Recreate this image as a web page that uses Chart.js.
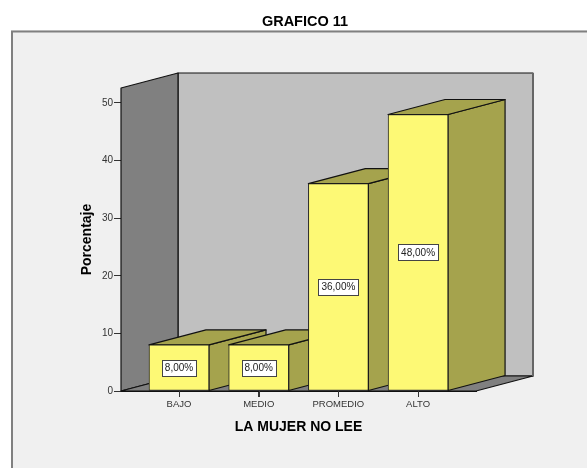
<!DOCTYPE html>
<html>
<head>
<meta charset="utf-8">
<style>
html, body { margin: 0; padding: 0; background: #fff; }
#wrap { width: 587px; height: 468px; }
</style>
<script src="https://cdn.jsdelivr.net/npm/chart.js@4"></script>
</head>
<body>
<div id="wrap"><canvas id="grafico"></canvas></div>
<script>
const categories = ["BAJO", "MEDIO", "PROMEDIO", "ALTO"];
const percentages = [8, 8, 36, 48];
const valueLabels = ["8,00%", "8,00%", "36,00%", "48,00%"];
const yTicks = [0, 10, 20, 30, 40, 50];

const depthX = 57;
const depthY = 15;
const fontName = '"Liberation Sans", Arial, sans-serif';

function poly(ctx, pts, fill) {
    ctx.beginPath();
    pts.forEach((p, i) => (i ? ctx.lineTo(p[0], p[1]) : ctx.moveTo(p[0], p[1])));
    ctx.closePath();
    ctx.fillStyle = fill;
    ctx.fill();
    ctx.stroke();
}

const box3d = {
    id: "box3d",
    beforeDraw(chart) {
        const ctx = chart.ctx;
        ctx.save();
        ctx.fillStyle = "#fff";
        ctx.fillRect(0, 0, chart.width, chart.height);
        ctx.fillStyle = "#f0f0f0";
        ctx.fillRect(11, 30, chart.width - 11, chart.height - 30);
        ctx.strokeStyle = "#808080";
        ctx.lineWidth = 2;
        ctx.beginPath();
        ctx.moveTo(12, chart.height);
        ctx.lineTo(12, 31.5);
        ctx.lineTo(chart.width, 31.5);
        ctx.stroke();
        ctx.fillStyle = "#000";
        ctx.font = "bold 14.5px " + fontName;
        ctx.textAlign = "center";
        ctx.textBaseline = "middle";
        ctx.fillText("GRAFICO 11", 305, 22);
        ctx.restore();
    },
    beforeDatasetsDraw(chart) {
        const ctx = chart.ctx;
        const a = chart.chartArea;
        ctx.save();
        ctx.strokeStyle = "#111";
        ctx.lineWidth = 1.2;
        ctx.lineJoin = "round";
        // paredes y piso
        poly(ctx, [[a.left + depthX, a.top - depthY], [a.right + depthX, a.top - depthY],
            [a.right + depthX, a.bottom - depthY], [a.left + depthX, a.bottom - depthY]], "#c0c0c0");
        poly(ctx, [[a.left, a.top], [a.left + depthX, a.top - depthY],
            [a.left + depthX, a.bottom - depthY], [a.left, a.bottom]], "#808080");
        poly(ctx, [[a.left, a.bottom], [a.left + depthX, a.bottom - depthY],
            [a.right + depthX, a.bottom - depthY], [a.right, a.bottom]], "#808080");
        ctx.strokeStyle = "#666";
        ctx.lineWidth = 2;
        ctx.beginPath();
        ctx.moveTo(a.right + depthX, a.top - depthY);
        ctx.lineTo(a.right + depthX, a.bottom - depthY);
        ctx.stroke();
        // caras laterales y superiores de las barras
        ctx.strokeStyle = "#111";
        ctx.lineWidth = 1.2;
        chart.getDatasetMeta(0).data.forEach((bar) => {
            const l = bar.x - bar.width / 2;
            const r = bar.x + bar.width / 2;
            poly(ctx, [[r, bar.y], [r + depthX, bar.y - depthY], [r + depthX, bar.base - depthY], [r, bar.base]], "#a5a34d");
            poly(ctx, [[l, bar.y], [l + depthX, bar.y - depthY], [r + depthX, bar.y - depthY], [r, bar.y]], "#a5a34d");
        });
        ctx.restore();
    },
    afterDatasetsDraw(chart) {
        const ctx = chart.ctx;
        ctx.save();
        ctx.font = "10px " + fontName;
        ctx.textAlign = "center";
        ctx.textBaseline = "middle";
        chart.getDatasetMeta(0).data.forEach((bar, i) => {
            const cy = (bar.y + bar.base) / 2;
            const w = ctx.measureText(valueLabels[i]).width + 6;
            const h = 16;
            ctx.fillStyle = "#fff";
            ctx.strokeStyle = "#444";
            ctx.lineWidth = 1;
            ctx.fillRect(Math.round(bar.x - w / 2) + 0.5, Math.round(cy - h / 2) + 0.5, Math.round(w), h);
            ctx.strokeRect(Math.round(bar.x - w / 2) + 0.5, Math.round(cy - h / 2) + 0.5, Math.round(w), h);
            ctx.fillStyle = "#222";
            ctx.fillText(valueLabels[i], bar.x, cy + 0.5);
        });
        // marcas del eje x, se pintan aqui para que queden sobre las barras
        const x = chart.scales.x;
        ctx.strokeStyle = "#333";
        ctx.lineWidth = 1;
        x.ticks.forEach((t) => {
            const px = Math.round(x.getPixelForValue(t.value)) + 0.5;
            ctx.beginPath();
            ctx.moveTo(px, x.top);
            ctx.lineTo(px, x.top + 6);
            ctx.stroke();
        });
        ctx.restore();
    },
};

new Chart(document.getElementById("grafico"), {
    type: "bar",
    data: {
        datasets: [
            {
                data: categories.map((c, i) => ({ x: i, y: percentages[i] })),
                backgroundColor: "#fdf975",
                borderColor: "#222",
                borderWidth: 1,
                borderSkipped: false,
                barThickness: 60,
            },
        ],
    },
    options: {
        responsive: true,
        maintainAspectRatio: false,
        animation: false,
        layout: { padding: { top: 88, right: 111, left: 0, bottom: 0 } },
        plugins: { legend: { display: false }, tooltip: { enabled: false } },
        scales: {
            x: {
                type: "linear",
                offset: false,
                min: -0.728,
                max: 3.727,
                afterBuildTicks(scale) {
                    scale.ticks = categories.map((c, i) => ({ value: i }));
                },
                afterFit(scale) {
                    scale.height = 77;
                },
                grid: { offset: false, drawOnChartArea: false, drawTicks: true, tickLength: 6, color: "#333" },
                border: { color: "#111" },
                ticks: {
                    autoSkip: false,
                    maxRotation: 0,
                    padding: 2,
                    color: "#333",
                    font: { family: fontName, size: 9.5 },
                    callback: (v) => categories[v],
                },
                title: {
                    display: true,
                    text: "LA MUJER NO LEE",
                    color: "#000",
                    font: { family: fontName, size: 14, weight: "bold" },
                    padding: { top: 0, bottom: 32 },
                },
            },
            y: {
                min: 0,
                max: 52.6,
                afterBuildTicks(scale) {
                    scale.ticks = yTicks.map((v) => ({ value: v }));
                },
                afterFit(scale) {
                    scale.width = 121;
                },
                grid: { drawOnChartArea: false, tickLength: 7, color: "#333" },
                border: { color: "#111" },
                ticks: {
                    padding: 1,
                    color: "#333",
                    font: { family: fontName, size: 10 },
                },
                title: {
                    display: true,
                    text: "Porcentaje",
                    color: "#000",
                    font: { family: fontName, size: 14, weight: "bold" },
                    padding: { top: 79, bottom: 0 },
                },
            },
        },
    },
    plugins: [box3d],
});
</script>
</body>
</html>
